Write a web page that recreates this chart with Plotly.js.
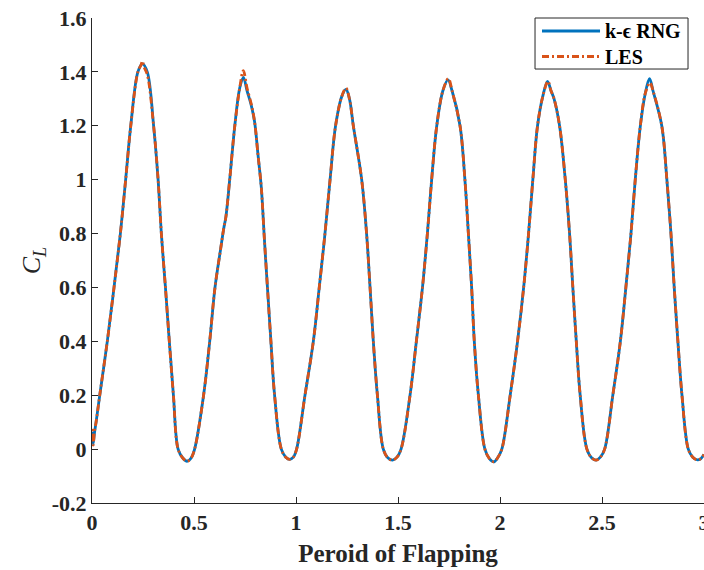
<!DOCTYPE html>
<html>
<head>
<meta charset="utf-8">
<script src="https://cdn.plot.ly/plotly-3.0.1.min.js"></script>
<style>html,body{margin:0;padding:0;background:#fff;}#chart{width:704px;height:570px;}</style>
</head>
<body>
<div id="chart"></div>
<script>
// k-epsilon RNG series
const rngX = [0, 0.003, 0.006, 0.012, 0.02, 0.038, 0.075, 0.108, 0.139, 0.165, 0.19, 0.225, 0.247, 0.271, 0.302, 0.324, 0.34, 0.36, 0.379, 0.399, 0.422, 0.445, 0.466, 0.486, 0.503,
  0.547, 0.577, 0.603, 0.631, 0.646, 0.656, 0.675, 0.70, 0.724, 0.742, 0.76, 0.781, 0.797, 0.814, 0.83, 0.845, 0.86, 0.877, 0.895, 0.928, 0.95, 0.969, 0.987, 1.003,
  1.044, 1.085, 1.114, 1.142, 1.167, 1.194, 1.225, 1.245, 1.262, 1.281, 1.322, 1.346, 1.363, 1.379, 1.399, 1.428, 1.45, 1.474, 1.495, 1.515,
  1.559, 1.59, 1.62, 1.644, 1.665, 1.69, 1.72, 1.745, 1.765, 1.804, 1.828, 1.845, 1.861, 1.874, 1.894, 1.926, 1.948, 1.97, 1.99, 2.009,
  2.05, 2.086, 2.116, 2.14, 2.161, 2.184, 2.21, 2.233, 2.25, 2.265, 2.292, 2.32, 2.341, 2.357, 2.374, 2.393, 2.426, 2.45, 2.472, 2.492, 2.513,
  2.553, 2.59, 2.617, 2.642, 2.663, 2.688, 2.712, 2.733, 2.75, 2.793, 2.818, 2.838, 2.854, 2.872, 2.892, 2.923, 2.945, 2.968, 2.985, 3.0];
const rngY = [0.02, 0.06, 0.02, 0.06, 0.1, 0.2, 0.4, 0.6, 0.8, 1.0, 1.2, 1.4, 1.43, 1.4, 1.2, 1.0, 0.8, 0.6, 0.4, 0.2, 0.0, -0.033, -0.045, -0.033, 0.0,
  0.2, 0.4, 0.6, 0.745, 0.82, 0.86, 1.0, 1.2, 1.34, 1.38, 1.33, 1.275, 1.215, 1.09, 0.97, 0.78, 0.6, 0.4, 0.2, 0.0, -0.03, -0.038, -0.03, 0.0,
  0.2, 0.4, 0.6, 0.8, 1.0, 1.2, 1.31, 1.335, 1.3, 1.2, 1.0, 0.8, 0.6, 0.4, 0.2, 0.0, -0.032, -0.041, -0.03, 0.0,
  0.2, 0.4, 0.6, 0.8, 1.0, 1.2, 1.33, 1.37, 1.33, 1.2, 1.0, 0.8, 0.6, 0.4, 0.2, 0.0, -0.035, -0.047, -0.03, 0.0,
  0.2, 0.4, 0.6, 0.8, 1.0, 1.2, 1.31, 1.365, 1.33, 1.3, 1.2, 1.0, 0.8, 0.6, 0.4, 0.2, 0.0, -0.033, -0.041, -0.03, 0.0,
  0.2, 0.4, 0.6, 0.8, 1.0, 1.2, 1.32, 1.375, 1.33, 1.2, 1.0, 0.8, 0.6, 0.4, 0.2, 0.0, -0.03, -0.04, -0.035, -0.02];

// LES series
const lesX = [0, 0.003, 0.006, 0.012, 0.02, 0.038, 0.075, 0.108, 0.139, 0.165, 0.19, 0.225, 0.24, 0.247, 0.254, 0.271, 0.302, 0.324, 0.34, 0.36, 0.379, 0.399, 0.422, 0.445, 0.466, 0.486, 0.503,
  0.547, 0.577, 0.603, 0.631, 0.646, 0.656, 0.675, 0.70, 0.724, 0.742, 0.76, 0.781, 0.797, 0.814, 0.83, 0.845, 0.86, 0.877, 0.895, 0.928, 0.95, 0.969, 0.987, 1.003,
  1.044, 1.085, 1.114, 1.142, 1.167, 1.194, 1.225, 1.245, 1.262, 1.281, 1.322, 1.346, 1.363, 1.379, 1.399, 1.428, 1.45, 1.474, 1.495, 1.515,
  1.559, 1.59, 1.62, 1.644, 1.665, 1.69, 1.72, 1.747, 1.765, 1.804, 1.828, 1.845, 1.861, 1.874, 1.894, 1.926, 1.948, 1.97, 1.99, 2.009,
  2.05, 2.086, 2.116, 2.14, 2.161, 2.184, 2.21, 2.235, 2.25, 2.265, 2.292, 2.32, 2.341, 2.357, 2.374, 2.393, 2.426, 2.45, 2.472, 2.492, 2.513,
  2.553, 2.59, 2.617, 2.642, 2.663, 2.688, 2.712, 2.735, 2.75, 2.793, 2.818, 2.838, 2.854, 2.872, 2.892, 2.923, 2.945, 2.968, 2.985, 3.0];
const lesY = [0.03, 0.07, 0.015, 0.065, 0.1, 0.2, 0.4, 0.6, 0.8, 1.0, 1.2, 1.4, 1.425, 1.44, 1.42, 1.39, 1.2, 1.0, 0.8, 0.6, 0.4, 0.2, 0.0, -0.033, -0.045, -0.033, 0.0,
  0.2, 0.4, 0.6, 0.745, 0.82, 0.86, 1.0, 1.2, 1.34, 1.405, 1.34, 1.28, 1.215, 1.09, 0.97, 0.78, 0.6, 0.4, 0.2, 0.0, -0.03, -0.038, -0.03, 0.0,
  0.2, 0.4, 0.6, 0.8, 1.0, 1.2, 1.31, 1.34, 1.3, 1.2, 1.0, 0.8, 0.6, 0.4, 0.2, 0.0, -0.032, -0.041, -0.03, 0.0,
  0.2, 0.4, 0.6, 0.8, 1.0, 1.2, 1.33, 1.375, 1.33, 1.2, 1.0, 0.8, 0.6, 0.4, 0.2, 0.0, -0.035, -0.047, -0.03, 0.0,
  0.2, 0.4, 0.6, 0.8, 1.0, 1.2, 1.31, 1.365, 1.33, 1.3, 1.2, 1.0, 0.8, 0.6, 0.4, 0.2, 0.0, -0.033, -0.041, -0.03, 0.0,
  0.2, 0.4, 0.6, 0.8, 1.0, 1.2, 1.32, 1.36, 1.33, 1.2, 1.0, 0.8, 0.6, 0.4, 0.2, 0.0, -0.03, -0.04, -0.035, -0.02];

const seriesNames = ['k-\u03F5 RNG', 'LES'];
const xTickVals = [0, 0.5, 1, 1.5, 2, 2.5, 3];
const xTickText = ['0', '0.5', '1', '1.5', '2', '2.5', '3'];
const yTickVals = [-0.2, 0, 0.2, 0.4, 0.6, 0.8, 1, 1.2, 1.4, 1.6];
const yTickText = ['-0.2', '0', '0.2', '0.4', '0.6', '0.8', '1', '1.2', '1.4', '1.6'];

const BLUE = '#0072BD', ORANGE = '#D95319', AX = '#262626';
const FONT = '"Liberation Serif", "Times New Roman", Times, "DejaVu Serif", serif';
const DASH = '7px,3px,2px,3px';

const traces = [
  {x: rngX, y: rngY, type: 'scatter', mode: 'lines', name: seriesNames[0], showlegend: false,
   line: {color: BLUE, width: 2.8, shape: 'spline', smoothing: 1}},
  {x: lesX, y: lesY, type: 'scatter', mode: 'lines', name: seriesNames[1], showlegend: false,
   line: {color: ORANGE, width: 2.8, shape: 'spline', smoothing: 1, dash: DASH}}
];

// manual legend geometry (paper coords)
const L = {x0: 0.7239, x1: 0.9739, y0: 0.8948, y1: 1.0, lx0: 0.7353, lx1: 0.8301, tx: 0.835, ry: [0.9732, 0.9206]};

const layout = {
  width: 704, height: 570,
  margin: {l: 92, r: 0, t: 18, b: 67, pad: 0},
  paper_bgcolor: '#fff', plot_bgcolor: '#fff',
  showlegend: false,
  font: {family: FONT},
  xaxis: {
    range: [0, 3], tickvals: xTickVals, ticktext: xTickText, ticklabeloverflow: 'allow',
    showline: true, linecolor: AX, linewidth: 1, mirror: false,
    ticks: 'inside', ticklen: 6, tickcolor: AX, tickwidth: 1,
    showgrid: false, zeroline: false,
    tickfont: {family: FONT, size: 22, color: AX, weight: 'bold'},
    title: {text: 'Peroid of Flapping', font: {family: FONT, size: 25, color: AX, weight: 'bold'}, standoff: 10}
  },
  yaxis: {
    range: [-0.2, 1.6], tickvals: yTickVals, ticktext: yTickText,
    showline: true, linecolor: AX, linewidth: 1, mirror: false,
    ticks: 'inside', ticklen: 6, tickcolor: AX, tickwidth: 1,
    showgrid: false, zeroline: false,
    tickfont: {family: FONT, size: 22, color: AX, weight: 'bold'},
    title: {text: '<i>C</i><sub><i>L</i></sub>', font: {family: FONT, size: 26, color: AX}, standoff: 3}
  },
  shapes: [
    {type: 'rect', xref: 'paper', yref: 'paper', x0: L.x0, x1: L.x1, y0: L.y0, y1: L.y1,
     fillcolor: '#fff', line: {color: AX, width: 1}},
    {type: 'line', xref: 'paper', yref: 'paper', x0: L.lx0, x1: L.lx1, y0: L.ry[0], y1: L.ry[0],
     line: {color: BLUE, width: 2.8}},
    {type: 'line', xref: 'paper', yref: 'paper', x0: L.lx0, x1: L.lx1, y0: L.ry[1], y1: L.ry[1],
     line: {color: ORANGE, width: 2.8, dash: DASH}}
  ],
  annotations: seriesNames.map((n, i) => ({
    xref: 'paper', yref: 'paper', x: L.tx, y: L.ry[i], xanchor: 'left', yanchor: 'middle',
    text: n, showarrow: false, font: {family: FONT, size: 20, color: '#000', weight: 'bold'}
  }))
};

Plotly.newPlot('chart', traces, layout, {displayModeBar: false, staticPlot: true});
</script>
</body>
</html>
